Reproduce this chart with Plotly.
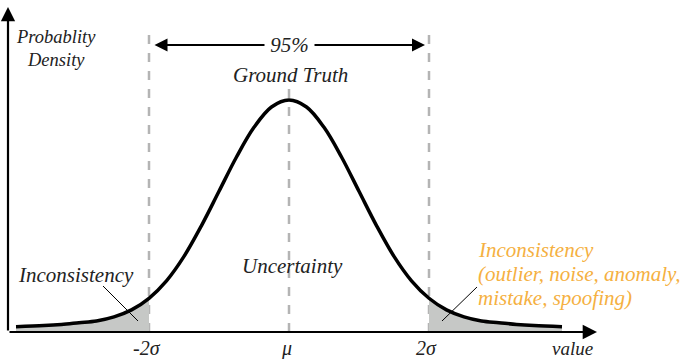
import plotly.graph_objects as go

# curve (x in sigma units, y as density)
x_vals = [-3.9, -3.5, -3.25, -3.0, -2.75, -2.5, -2.25, -2.0, -1.75, -1.5, -1.25, -1.0,
          -0.75, -0.5, -0.25, 0.0, 0.25, 0.5, 0.75, 1.0, 1.25, 1.5, 1.75, 2.0,
          2.25, 2.5, 2.75, 3.0, 3.25, 3.5, 3.9]
y_vals = [0.009, 0.011, 0.013, 0.016, 0.019, 0.026, 0.038, 0.058, 0.088, 0.130, 0.183, 0.242,
          0.301, 0.352, 0.387, 0.399, 0.387, 0.352, 0.301, 0.242, 0.183, 0.130, 0.088, 0.058,
          0.038, 0.026, 0.019, 0.016, 0.013, 0.011, 0.009]
ref_x = [-2, 0, 2]
ref_labels = ['-2σ', 'μ', '2σ']
orange_lines = ['Inconsistency', '(outlier, noise, anomaly,', 'mistake, spoofing)']

SERIF = 'Times New Roman, Liberation Serif, DejaVu Serif, serif'
ORANGE = '#f5b041'
GRAY = '#b4b4b4'
TEXT = '#222222'


def px(p):
    return (p - 289) / 70.0


def py(p):
    return (332 - p) / 581.5


fig = go.Figure()

# shaded tails
left_x = [x for x in x_vals if x <= -2]
left_y = [y for x, y in zip(x_vals, y_vals) if x <= -2]
right_x = [x for x in x_vals if x >= 2]
right_y = [y for x, y in zip(x_vals, y_vals) if x >= 2]
for tx, ty in [(left_x, left_y), (right_x, right_y)]:
    fig.add_trace(go.Scatter(x=tx, y=ty, mode='lines', fill='tozeroy',
                             fillcolor='#c6c8c6', line=dict(width=0, shape='spline'),
                             hoverinfo='skip'))

# reference dashed lines
for rx in ref_x:
    top = py(88) if rx == 0 else py(35)
    fig.add_shape(type='line', x0=rx, x1=rx, y0=0, y1=top,
                  line=dict(color=GRAY, width=2.5, dash='dash'), layer='below')

fig.add_trace(go.Scatter(x=x_vals, y=y_vals, mode='lines',
                         line=dict(color='black', width=3.5, shape='spline'),
                         hoverinfo='skip'))

# axes with arrows
fig.add_annotation(x=px(597), y=0, ax=px(8), ay=0, axref='x', ayref='y',
                   xref='x', yref='y', text='', showarrow=True, arrowhead=2,
                   arrowsize=1.3, arrowwidth=2.2, arrowcolor='black')
fig.add_annotation(x=px(8), y=py(7), ax=px(8), ay=0, axref='x', ayref='y',
                   xref='x', yref='y', text='', showarrow=True, arrowhead=2,
                   arrowsize=1.3, arrowwidth=2.2, arrowcolor='black')

# 95% double arrow
fig.add_annotation(x=px(425), y=py(45), ax=px(153), ay=py(45), axref='x', ayref='y',
                   text='', showarrow=True, arrowhead=2, startarrowhead=2,
                   arrowside='end+start', arrowsize=1.3, startarrowsize=1.3,
                   arrowwidth=2, arrowcolor='black')

# leader lines
fig.add_shape(type='line', x0=px(103), y0=py(286), x1=px(138), y1=py(321),
              line=dict(color='black', width=1))
fig.add_shape(type='line', x0=px(477), y0=py(287), x1=px(442), y1=py(321),
              line=dict(color='black', width=1))


def label(text, x, y, size=21, color=TEXT, xanchor='center', bg=None):
    fig.add_annotation(x=px(x), y=py(y), text='<i>' + text + '</i>', showarrow=False,
                       font=dict(family=SERIF, size=size, color=color),
                       xanchor=xanchor, yanchor='middle', bgcolor=bg,
                       borderpad=0)


label('Probablity', 56, 37, size=18.5)
label('Density', 56, 60, size=18.5)
label('&nbsp;95%&nbsp;', 289, 45, size=21, bg='white')
label('Ground Truth', 290, 75)
label('Uncertainty', 292, 266)
label('Inconsistency', 17, 275, xanchor='left')
for i, line in enumerate(orange_lines):
    label(line, 477, 250 + 24 * i, color=ORANGE, xanchor='left')
for rx, lab in zip(ref_x, ref_labels):
    fig.add_annotation(x=rx - 0.03, y=py(348), text='<i>' + lab + '</i>', showarrow=False,
                       font=dict(family=SERIF, size=20, color=TEXT), yanchor='middle')
label('value', 572, 348, size=19)

fig.update_layout(
    width=687, height=359,
    margin=dict(l=0, r=0, t=0, b=0),
    paper_bgcolor='white', plot_bgcolor='white',
    showlegend=False,
    xaxis=dict(range=[px(0), px(687)], visible=False, fixedrange=True),
    yaxis=dict(range=[py(359), py(0)], visible=False, fixedrange=True),
)

fig.write_html("out.html", config={'displayModeBar': False},
               post_script="document.body.style.margin='0';")
